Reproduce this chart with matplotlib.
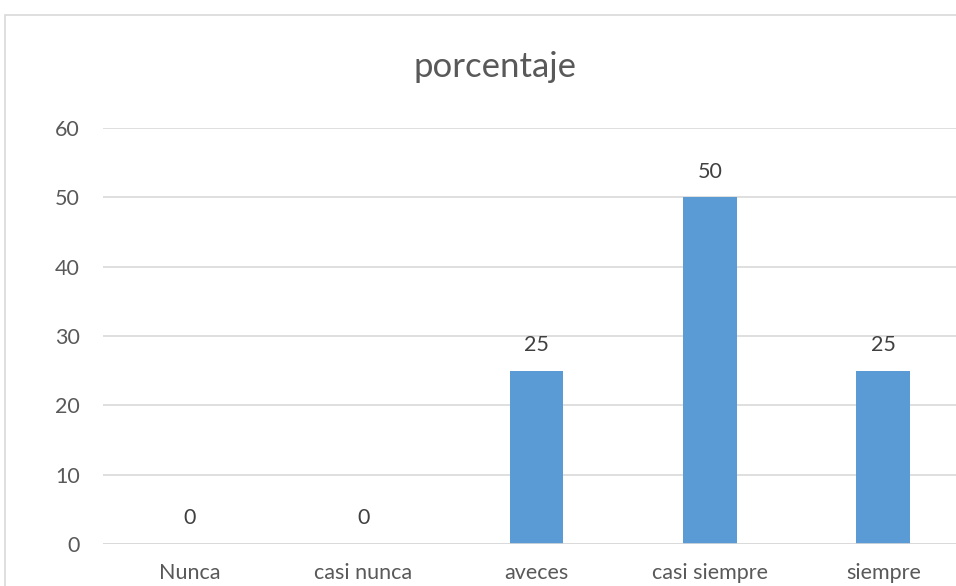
import matplotlib
matplotlib.use("Agg")
import matplotlib.pyplot as plt
from matplotlib.patches import Rectangle

categories = ["Nunca", "casi nunca", "aveces", "casi siempre", "siempre"]
values = [0, 0, 25, 50, 25]
yticks = [0, 10, 20, 30, 40, 50, 60]

W, H = 956, 586
fig = plt.figure(figsize=(W / 100, H / 100), dpi=100)
fig.patch.set_facecolor("white")
font = "Lato"
txt = "#595959"
fs = 15.5

# chart border (extends beyond image right/bottom)
fig.patches.append(Rectangle((5 / W, -0.1), 1.2, 1 - 15 / H + 0.1, transform=fig.transFigure,
                             fill=False, edgecolor="#d9d9d9", linewidth=1.2))

left = 103 / W
right = 970 / W
bottom = 1 - 544 / H
top = 1 - 128 / H
ax = fig.add_axes([left, bottom, right - left, top - bottom])
x = list(range(len(categories)))
ax.bar(x, values, width=0.31, color="#5b9bd5", zorder=3)
ax.set_xlim(-0.5, len(categories) - 0.5)
ax.set_ylim(0, 60)
ax.set_yticks(yticks)
ax.set_yticklabels([str(t) for t in yticks], fontname=font, fontsize=fs, color=txt)
ax.set_xticks(x)
ax.set_xticklabels(categories, fontname=font, fontsize=fs, color=txt)
ax.tick_params(axis="both", length=0)
ax.tick_params(axis="x", pad=14)
ax.tick_params(axis="y", pad=16.5)
ax.grid(axis="y", color="#d9d9d9", linewidth=1.2, zorder=0)
for s in ax.spines.values():
    s.set_visible(False)
ax.axhline(0, color="#d9d9d9", linewidth=1.2, zorder=4)

for xi, v in zip(x, values):
    ax.annotate(str(v), (xi, v), xytext=(0, 18.5), textcoords="offset points",
                ha="center", va="center", fontname=font, fontsize=fs, color="#404040")

fig.text(495 / W, 1 - 67 / H, "porcentaje", ha="center", va="center",
         fontname=font, fontsize=25, color=txt)

fig.savefig("out.png", dpi=100, facecolor="white")
